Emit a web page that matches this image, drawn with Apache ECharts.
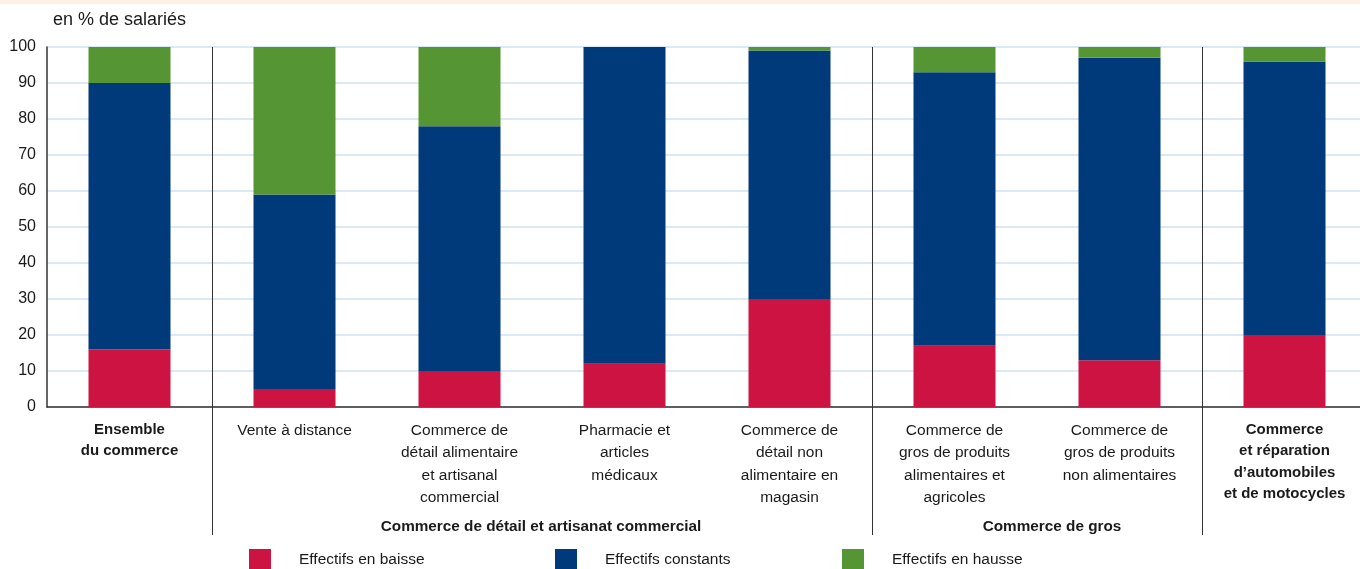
<!DOCTYPE html>
<html>
<head>
<meta charset="utf-8">
<script src="https://cdn.jsdelivr.net/npm/echarts@6/dist/echarts.min.js"></script>
<style>html,body{margin:0;padding:0;background:#fff}#c{width:1360px;height:569px}</style>
</head>
<body>
<div id="c"></div>
<script>
const categories = [
  "Ensemble\ndu commerce",
  "Vente à distance",
  "Commerce de\ndétail alimentaire\net artisanal\ncommercial",
  "Pharmacie et\narticles\nmédicaux",
  "Commerce de\ndétail non\nalimentaire en\nmagasin",
  "Commerce de\ngros de produits\nalimentaires et\nagricoles",
  "Commerce de\ngros de produits\nnon alimentaires",
  "Commerce\net réparation\nd’automobiles\net de motocycles"
];
const boldCategories = [0, 7];
const baisse = [16, 5, 10, 12, 30, 17, 13, 20];
const constants = [74, 54, 68, 88, 69, 76, 84, 76];
const hausse = [10, 41, 22, 0, 1, 7, 3, 4];
const seriesNames = ["Effectifs en baisse", "Effectifs constants", "Effectifs en hausse"];
const groupLabels = ["Commerce de détail et artisanat commercial", "Commerce de gros"];
const separatorIndices = [1, 5, 7];

const colors = ["#cc1342", "#003a7a", "#569533"];
const regular = "'Liberation Sans', Arial, sans-serif";

const chart = echarts.init(document.getElementById('c'));
const dataSets = [baisse, constants, hausse];
const legendLefts = [249, 555, 842];

chart.setOption({
  animation: false,
  backgroundColor: '#fff',
  title: {
    text: 'en % de salariés', left: 53, top: 11, padding: 0,
    textStyle: { fontFamily: regular, fontSize: 18, fontWeight: 'normal', color: '#1a1a1a' }
  },
  legend: seriesNames.map((n, i) => ({
    data: [n], left: legendLefts[i], top: 549, padding: 0, itemWidth: 22, itemHeight: 22,
    icon: 'rect',
    textStyle: { fontFamily: regular, fontSize: 15.5, color: '#1a1a1a', padding: [2, 0, 0, 23] },
    selectedMode: false
  })),
  grid: { left: 47, width: 1320, top: 47, bottom: 162, outerBoundsMode: 'none', containLabel: false },
  xAxis: {
    type: 'category', data: categories,
    axisLine: { lineStyle: { color: '#333', width: 1.5 } },
    axisTick: { show: true, length: 128, interval: (i) => separatorIndices.includes(i), lineStyle: { color: '#333', width: 1 } },
    splitLine: { show: true, interval: (i) => separatorIndices.includes(i), lineStyle: { color: '#333', width: 1 } },
    axisLabel: {
      interval: 0, margin: 12, fontFamily: regular, fontSize: 15.5, lineHeight: 22.5, color: '#1a1a1a',
      formatter: (v, i) => boldCategories.includes(i) ? v.split('\n').map(s => '{b|' + s + '}').join('\n') : v,
      rich: { b: { fontFamily: regular, fontSize: 15, fontWeight: 'bold', lineHeight: 21.5, color: '#1a1a1a' } }
    }
  },
  yAxis: {
    type: 'value', min: 0, max: 100, interval: 10,
    axisLine: { show: true, lineStyle: { color: '#333', width: 1.5 } },
    axisTick: { show: false },
    axisLabel: { margin: 11, fontFamily: regular, fontSize: 16, color: '#1a1a1a' },
    splitLine: { lineStyle: { color: '#cfe2f3', width: 1.5 } }
  },
  series: seriesNames.map((n, i) => ({
    name: n, type: 'bar', stack: 'total', barWidth: 82, data: dataSets[i],
    itemStyle: { color: colors[i] }
  })),
  graphic: [
    { type: 'rect', shape: { x: 0, y: 0, width: 1360, height: 4 }, style: { fill: '#fdf0e6' } },
    { type: 'text', x: 541, y: 527, style: { text: groupLabels[0], font: "bold 15.3px 'Liberation Sans', Arial", fill: '#1a1a1a', textAlign: 'center', textVerticalAlign: 'middle' } },
    { type: 'text', x: 1052, y: 527, style: { text: groupLabels[1], font: "bold 15.3px 'Liberation Sans', Arial", fill: '#1a1a1a', textAlign: 'center', textVerticalAlign: 'middle' } }
  ]
});
</script>
</body>
</html>
